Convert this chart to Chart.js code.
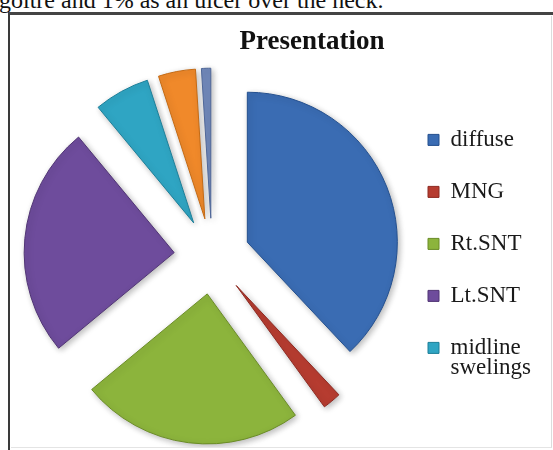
<!DOCTYPE html>
<html>
<head>
<meta charset="utf-8">
<script src="https://cdn.jsdelivr.net/npm/chart.js@4.4.1/dist/chart.umd.min.js"></script>
<style>
    html, body { margin: 0; padding: 0; background: #fff; }
    body { width: 553px; height: 450px; position: relative; overflow: hidden; }
    .caption {
        position: absolute; left: -1px; top: -12px;
        font: 24px/24px "Liberation Serif", "Times New Roman", serif;
        color: #111; white-space: nowrap;
    }
    .frame {
        position: absolute; left: 8px; top: 12px; width: 700px; height: 600px;
        border-left: 2px solid #3a3a3a; border-top: 3px solid #444;
    }
    .inner {
        position: absolute; left: 11px; top: 16px; width: 540px; height: 431px;
        border-right: 1px solid #dcdcdc; border-bottom: 1px solid #e4e4e4;
    }
    #chart { position: absolute; left: 10px; top: 14px; }
</style>
</head>
<body>
<div class="caption">goitre and 1% as an ulcer over the neck.</div>
<div class="frame"></div>
<div class="inner"></div>
<canvas id="chart" width="589" height="433"></canvas>
<script>
// Presentation of the swellings (percent of cases)
const categories = ['diffuse', 'MNG', 'Rt.SNT', 'Lt.SNT', ['midline', 'swelings'], 'recurrent goitre', 'ulcer'];
const shares = [38, 2, 24, 25, 6, 4, 1];
const sliceColors = ['#3A6CB3', '#B63C30', '#8CB43C', '#6E4C9C', '#2FA5C3', '#F0892A', '#7189BB'];
const edgeColors = ['#24508F', '#8E2A22', '#6A8C26', '#513575', '#1D7F99', '#C46A14', '#4F6798'];
const legendCount = 5; // only the first five fit in the legend column

const serif = '"Liberation Serif", "Times New Roman", serif';

// keep the legend column a fixed width so the pie sits left of centre
const fixedLegendWidth = {
    id: 'fixedLegendWidth',
    beforeInit(chart) {
        const fit = chart.legend.fit;
        chart.legend.fit = function () {
            fit.call(this);
            this.width = 200;
        };
    }
};

// pull every slice straight out along its middle angle
// (the built-in offset also stretches and thins small slices)
const explodeSlices = {
    id: 'explodeSlices',
    afterDatasetUpdate(chart, args, opts) {
        chart.getDatasetMeta(args.index).data.forEach(arc => {
            if (arc._exploded) return;
            const draw = arc.draw;
            arc.draw = function (ctx) {
                const mid = (this.startAngle + this.endAngle) / 2;
                ctx.save();
                ctx.translate(Math.cos(mid) * opts.distance, Math.sin(mid) * opts.distance);
                draw.call(this, ctx);
                ctx.restore();
            };
            arc._exploded = true;
        });
    }
};

// soft drop shadow under the slices
const sliceShadow = {
    id: 'sliceShadow',
    beforeDatasetDraw(chart) {
        const ctx = chart.ctx;
        ctx.save();
        ctx.shadowColor = 'rgba(0, 0, 0, 0.28)';
        ctx.shadowBlur = 6;
        ctx.shadowOffsetX = 2;
        ctx.shadowOffsetY = 2;
    },
    afterDatasetDraw(chart) {
        chart.ctx.restore();
    }
};

new Chart(document.getElementById('chart'), {
    type: 'pie',
    data: {
        labels: categories,
        datasets: [{
            data: shares,
            backgroundColor: sliceColors,
            borderColor: edgeColors,
            borderWidth: 1,
            clip: false
        }]
    },
    options: {
        responsive: false,
        animation: false,
        radius: 150,
        layout: { padding: { left: 15, right: 0, top: 0, bottom: 34 } },
        plugins: {
            explodeSlices: { distance: 38 },
            title: {
                display: true,
                text: 'Presentation',
                color: '#111',
                font: { family: serif, size: 27, weight: 'bold' },
                padding: { top: 12, bottom: 41 }
            },
            legend: {
                position: 'right',
                align: 'start',
                fullSize: false,
                labels: {
                    color: '#1a1a1a',
                    boxWidth: 11,
                    boxHeight: 11,
                    padding: 29,
                    font: { family: serif, size: 23, lineHeight: 0.87 },
                    filter: (item) => item.index < legendCount
                }
            },
            tooltip: { enabled: false }
        }
    },
    plugins: [fixedLegendWidth, explodeSlices, sliceShadow]
});
</script>
</body>
</html>
